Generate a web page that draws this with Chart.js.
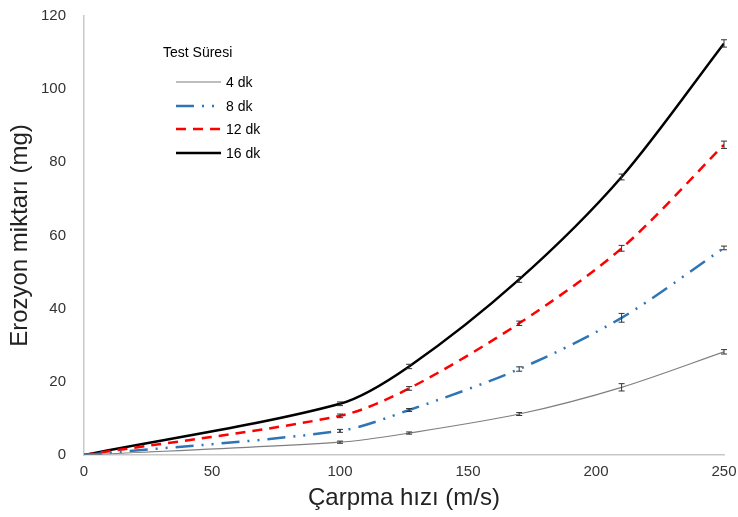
<!DOCTYPE html>
<html>
<head>
<meta charset="utf-8">
<script src="https://cdn.jsdelivr.net/npm/chart.js@4/dist/chart.umd.min.js"></script>
<style>
  html, body { margin: 0; padding: 0; background: #fff; }
  #wrap { width: 738px; height: 517px; }
</style>
</head>
<body>
<div id="wrap"><canvas id="erozyon"></canvas></div>
<script>
// carpma hizi (m/s)
var hiz = [0, 100, 127, 170, 210, 250];
// erozyon miktari (mg) per test suresi
var dk4  = [0, 3.5, 6.0, 11.2, 18.5, 28.2];
var dk8  = [0, 6.6, 12.3, 23.5, 37.5, 56.6];
var dk12 = [0, 10.7, 18.2, 36.0, 56.5, 84.8];
var dk16 = [0, 14.0, 24.2, 48.0, 76.0, 112.5];
// hata paylari
var err4  = [0, 0.3, 0.3, 0.4, 1.0, 0.6];
var err8  = [0, 0.4, 0.4, 0.6, 1.2, 0.5];
var err12 = [0, 0.5, 0.5, 0.6, 0.8, 1.0];
var err16 = [0, 0.5, 0.6, 0.8, 0.8, 1.0];
var seriler = ['4 dk', '8 dk', '12 dk', '16 dk'];

function pts(arr){
    return hiz.map(function(x, i){ return {x: x, y: arr[i]}; });
}

// error bars
var errorBars = {
    id: 'errorBars',
    afterDatasetsDraw: function(chart){
        var ctx = chart.ctx, xs = chart.scales.x, ys = chart.scales.y;
        chart.data.datasets.forEach(function(ds){
            ctx.save();
            ctx.strokeStyle = '#333';
            ctx.lineWidth = 1;
            ds.data.forEach(function(p, i){
                var e = ds.errs[i];
                if(!e) return;
                var px = xs.getPixelForValue(p.x);
                var y1 = ys.getPixelForValue(p.y - e), y2 = ys.getPixelForValue(p.y + e);
                ctx.beginPath();
                ctx.moveTo(px, y1); ctx.lineTo(px, y2);
                ctx.moveTo(px - 3, y1); ctx.lineTo(px + 3, y1);
                ctx.moveTo(px - 3, y2); ctx.lineTo(px + 3, y2);
                ctx.stroke();
            });
            ctx.restore();
        });
    }
};

// legend inside the plot
var icLegend = {
    id: 'icLegend',
    afterDraw: function(chart){
        var ctx = chart.ctx;
        ctx.save();
        ctx.fillStyle = '#000';
        ctx.font = '14px "Liberation Sans", Arial, sans-serif';
        ctx.textBaseline = 'middle';
        ctx.fillText('Test Süresi', 163, 53);
        var ys = [82, 106, 129, 153];
        chart.data.datasets.forEach(function(ds, i){
            ctx.strokeStyle = ds.borderColor;
            ctx.lineWidth = ds.borderWidth;
            ctx.setLineDash(ds.borderDash || []);
            ctx.beginPath();
            ctx.moveTo(176, ys[i]); ctx.lineTo(221, ys[i]);
            ctx.stroke();
            ctx.setLineDash([]);
            ctx.fillText(ds.label, 226, ys[i] + 1);
        });
        ctx.restore();
    }
};

var ctx = document.getElementById('erozyon').getContext('2d');
var chart = new Chart(ctx, {
    type: 'line',
    data: {
        datasets: [
            { label: seriler[0], data: pts(dk4), errs: err4, borderColor: '#7f7f7f', borderWidth: 1.2 },
            { label: seriler[1], data: pts(dk8), errs: err8, borderColor: '#2e75b6', borderWidth: 2.5, borderDash: [18, 8, 2, 8, 2, 8] },
            { label: seriler[2], data: pts(dk12), errs: err12, borderColor: '#ff0000', borderWidth: 2.5, borderDash: [10, 7] },
            { label: seriler[3], data: pts(dk16), errs: err16, borderColor: '#000000', borderWidth: 2.5 }
        ]
    },
    options: {
        responsive: true,
        maintainAspectRatio: false,
        animation: false,
        elements: {
            point: { radius: 0 },
            line: { tension: 0.3, fill: false }
        },
        layout: { padding: 0 },
        plugins: {
            legend: { display: false },
            tooltip: { enabled: false }
        },
        scales: {
            x: {
                type: 'linear',
                min: 0, max: 250,
                afterFit: function(s){ s.height = 62; s.paddingRight = 14; s.paddingLeft = 0; },
                grid: { display: false, drawTicks: false },
                border: { color: '#c8c8c8', width: 1.5 },
                ticks: { stepSize: 50, padding: 8, color: '#333', font: { size: 15, family: '"Liberation Sans", Arial, sans-serif' } },
                title: { display: true, text: 'Çarpma hızı (m/s)', color: '#222', padding: { top: 2 }, font: { size: 24, family: '"Liberation Sans", Arial, sans-serif' } }
            },
            y: {
                min: 0, max: 120,
                afterFit: function(s){ s.width = 84; s.paddingTop = 16; s.paddingBottom = 0; },
                grid: { display: false, drawTicks: false },
                border: { color: '#c8c8c8', width: 1.5 },
                ticks: { stepSize: 20, padding: 18, color: '#333', font: { size: 15, family: '"Liberation Sans", Arial, sans-serif' } },
                title: { display: true, text: 'Erozyon miktarı (mg)', color: '#222', padding: { top: 6 }, font: { size: 24, family: '"Liberation Sans", Arial, sans-serif' } }
            }
        }
    },
    plugins: [errorBars, icLegend]
});
</script>
</body>
</html>
